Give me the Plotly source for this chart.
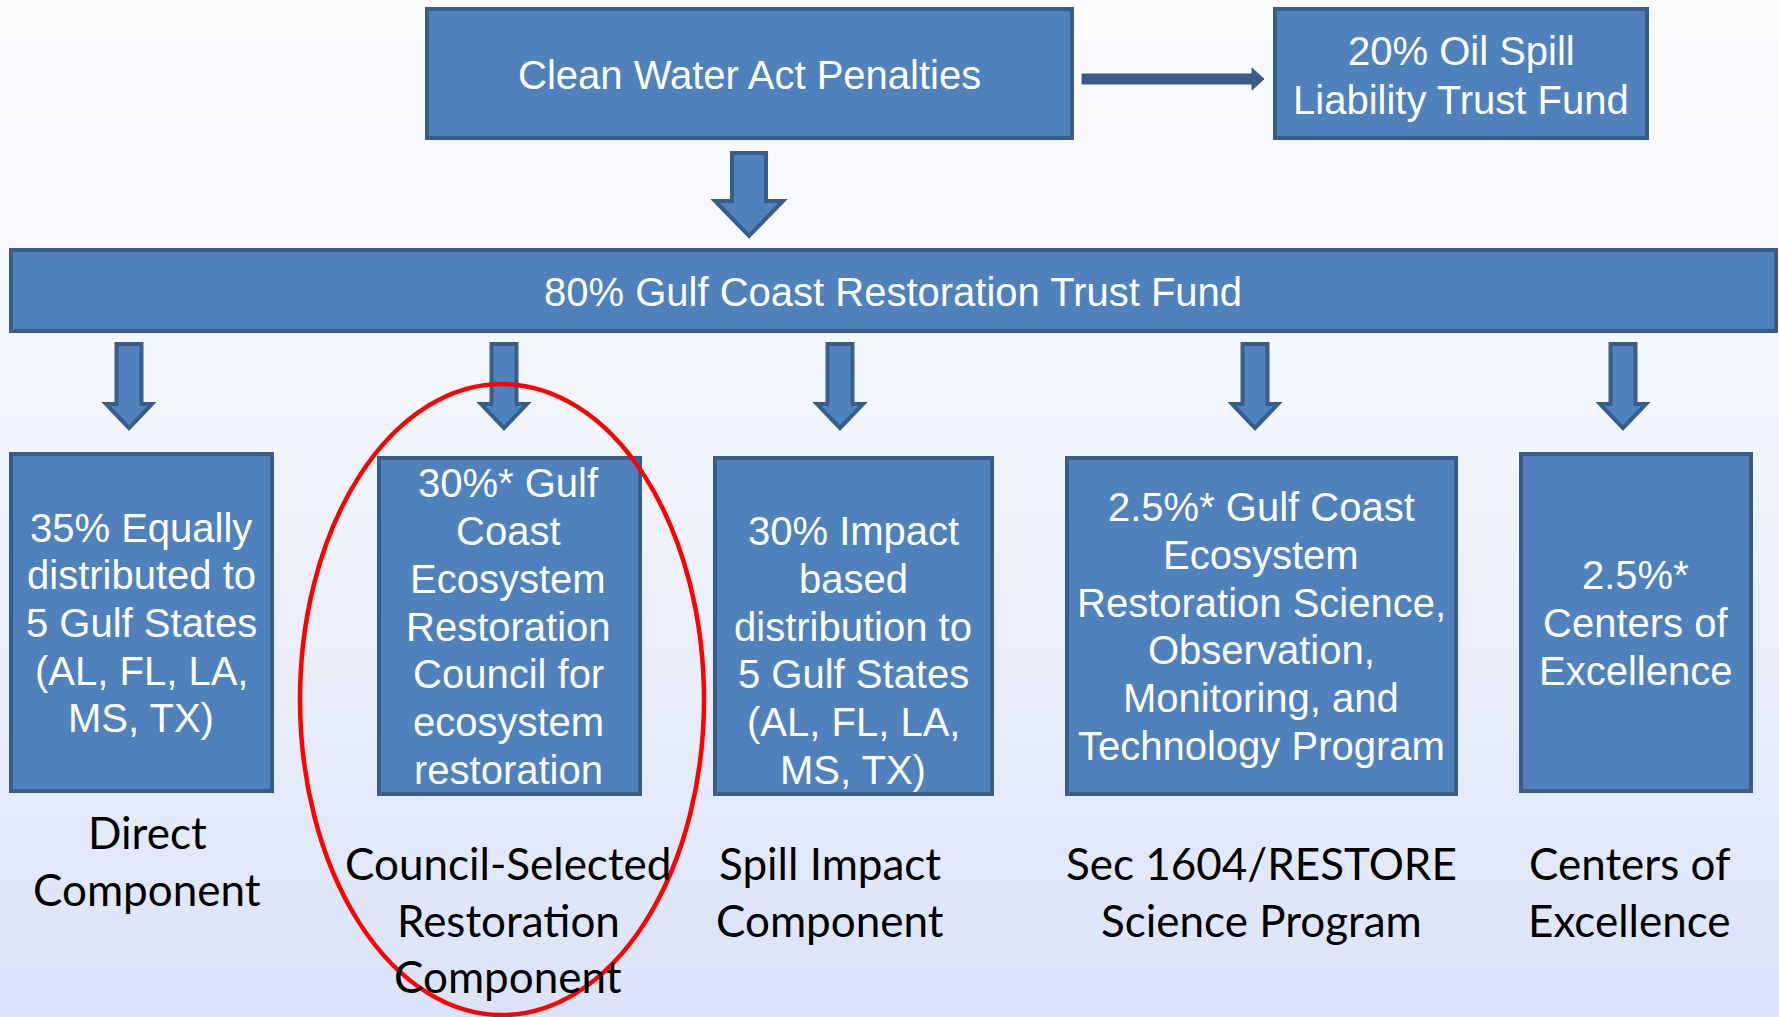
import plotly.graph_objects as go

# ---------------- content ----------------
top_label = "Clean Water Act Penalties"
side_label = ["20% Oil Spill", "Liability Trust Fund"]
trust_label = "80% Gulf Coast Restoration Trust Fund"

component_box_text = [
    ["35% Equally", "distributed to", "5 Gulf States", "(AL, FL, LA,", "MS, TX)"],
    ["30%* Gulf", "Coast", "Ecosystem", "Restoration", "Council for", "ecosystem", "restoration"],
    ["30% Impact", "based", "distribution to", "5 Gulf States", "(AL, FL, LA,", "MS, TX)"],
    ["2.5%* Gulf Coast", "Ecosystem", "Restoration Science,", "Observation,", "Monitoring, and", "Technology Program"],
    ["2.5%*", "Centers of", "Excellence"],
]
component_names = [
    ["Direct", "Component"],
    ["Council-Selected", "Restoration", "Component"],
    ["Spill Impact", "Component"],
    ["Sec 1604/RESTORE", "Science Program"],
    ["Centers of", "Excellence"],
]

# ---------------- layout geometry (pixels) ----------------
W, H = 1779, 1017
FILL = "#4F81BD"
EDGE = "#385D8A"
BOX_FONT = dict(family="Liberation Sans, Arial, sans-serif", size=40, color="white")
LBL_FONT = dict(family="Lato, Carlito, Calibri, sans-serif", size=44, color="black")

box_x = [(11, 272), (379, 640), (715, 992), (1067, 1456), (1521, 1751)]
box_y = [(454, 791), (458, 794), (458, 794), (458, 794), (454, 791)]
box_text_cy = [623, 626.5, 650.5, 626.5, 623]
box_text_cx = [141, 508, 853, 1261, 1635]
label_first_y = [832, 863, 863, 863, 863]
label_cx = [147, 508, 830, 1261, 1629]
small_arrow_x = [129, 504, 840, 1255, 1623]
BOX_LS = 47.7
LBL_LS = 56.7

shapes = []
annotations = []

# background gradient
stops = [(0, (250, 251, 253)), (400, (243, 246, 251)), (700, (232, 237, 249)), (1017, (219, 227, 249))]
def bg_color(y):
    for (y0, c0), (y1, c1) in zip(stops[:-1], stops[1:]):
        if y0 <= y <= y1:
            t = (y - y0) / (y1 - y0)
            return "rgb(%d,%d,%d)" % tuple(round(a + (b - a) * t) for a, b in zip(c0, c1))
    return "rgb(%d,%d,%d)" % stops[-1][1]

step = 4
for y in range(0, H, step):
    shapes.append(dict(type="rect", xref="x", yref="y", x0=0, x1=W, y0=y, y1=y + step + 0.5,
                       fillcolor=bg_color(y + step / 2), line=dict(width=0), layer="below"))


def box(x0, x1, y0, y1):
    shapes.append(dict(type="rect", xref="x", yref="y", x0=x0, x1=x1, y0=y0, y1=y1,
                       fillcolor=FILL, line=dict(color=EDGE, width=4), layer="above"))


def block_arrow(cx, top, head_start, tip, shaft_w, head_w):
    s, h = shaft_w / 2, head_w / 2
    path = (f"M {cx - s},{top} L {cx + s},{top} L {cx + s},{head_start} L {cx + h},{head_start} "
            f"L {cx},{tip} L {cx - h},{head_start} L {cx - s},{head_start} Z")
    shapes.append(dict(type="path", xref="x", yref="y", path=path, fillcolor=FILL,
                       line=dict(color=EDGE, width=4), layer="above"))


def text_lines(lines, cx, cy, ls, font):
    n = len(lines)
    for i, t in enumerate(lines):
        annotations.append(dict(x=cx, y=cy + (i - (n - 1) / 2) * ls, xref="x", yref="y",
                                text=t, showarrow=False, font=font,
                                xanchor="center", yanchor="middle"))


# top box and side box
box(427, 1072, 9, 138)
text_lines([top_label], 749, 75, BOX_LS, BOX_FONT)
box(1275, 1647, 9, 138)
text_lines(side_label, 1461, 75.5, 49, BOX_FONT)

# horizontal arrow
shapes.append(dict(type="path", xref="x", yref="y",
                   path="M 1082,74 L 1252,74 L 1252,68 L 1264,79 L 1252,90 L 1252,84 L 1082,84 Z",
                   fillcolor=EDGE, line=dict(color=EDGE, width=1), layer="above"))

# big down arrow
block_arrow(749, 153, 201, 236, 34, 68)

# trust fund bar
box(11, 1776, 250, 331)
text_lines([trust_label], 893, 292, BOX_LS, BOX_FONT)

# small arrows
for ax in small_arrow_x:
    block_arrow(ax, 344, 404, 428, 25, 46)

# component boxes + labels
for i in range(len(component_box_text)):
    box(box_x[i][0], box_x[i][1], box_y[i][0], box_y[i][1])
    text_lines(component_box_text[i], box_text_cx[i], box_text_cy[i], BOX_LS, BOX_FONT)
    names = component_names[i]
    cy = label_first_y[i] + (len(names) - 1) / 2 * LBL_LS
    text_lines(names, label_cx[i], cy, LBL_LS, LBL_FONT)

# red ellipse highlight
shapes.append(dict(type="circle", xref="x", yref="y", x0=300, x1=704, y0=384, y1=1015,
                   line=dict(color="#FF0000", width=4.5), fillcolor="rgba(0,0,0,0)", layer="above"))

fig = go.Figure()
fig.update_layout(
    width=W, height=H,
    margin=dict(l=0, r=0, t=0, b=0),
    paper_bgcolor="#F8F9FC", plot_bgcolor="#F8F9FC",
    xaxis=dict(range=[0, W], visible=False, fixedrange=True),
    yaxis=dict(range=[H, 0], visible=False, fixedrange=True),
    shapes=shapes,
    annotations=annotations,
    showlegend=False,
)
fig.write_html("out.html", config={"displayModeBar": False},
               post_script="document.body.style.margin='0';document.body.style.overflow='hidden';")
